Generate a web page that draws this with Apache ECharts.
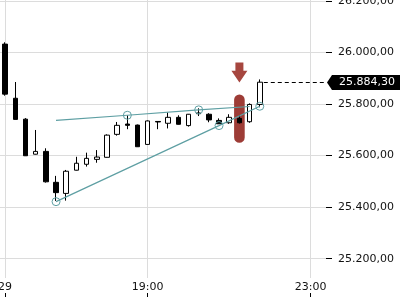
<!DOCTYPE html>
<html><head><meta charset="utf-8">
<script src="https://cdn.jsdelivr.net/npm/echarts@6/dist/echarts.min.js"></script>
<style>html,body{margin:0;padding:0;background:#fff}#c{width:400px;height:300px}</style>
</head><body><div id="c"></div>
<script>
// 15-minute candles
const categories = ['15:30','15:45','16:00','16:15','16:30','16:45','17:00','17:15','17:30','17:45',
  '18:00','18:15','18:30','18:45','19:00','19:15','19:30','19:45','20:00','20:15','20:30','20:45',
  '21:00','21:15','21:30','21:45','22:00','22:15','22:30','22:45','23:00','23:15'];
// [open, close, low, high]
const ohlc = [
  [26032,25838,25832,26039],
  [25822,25740,25740,25885],
  [25741,25599,25598,25745],
  [25605,25616,25604,25699],
  [25616,25498,25495,25628],
  [25496,25456,25424,25521],
  [25453,25539,25425,25544],
  [25543,25570,25542,25595],
  [25566,25589,25557,25611],
  [25585,25594,25572,25621],
  [25593,25679,25592,25682],
  [25682,25717,25677,25730],
  [25722,25717,25702,25756],
  [25718,25634,25633,25720],
  [25643,25734,25642,25736],
  [25732,25730,25702,25733],
  [25725,25748,25705,25767],
  [25748,25721,25720,25756],
  [25716,25760,25712,25761],
  [25765,25762,25753,25783],
  [25760,25738,25729,25764],
  [25736,25723,25722,25744],
  [25727,25748,25723,25760],
  [25744,25727,25724,25757],
  [25731,25798,25727,25802],
  [25798,25884.30,25787,25895]
];
const lastPrice = 25884.30;
const tickIndex = [0, 14, 30];
const tickText = ['29', '19:00', '23:00'];
// trend lines: [candle index, price]
const trendUpper = [[5,25736],[12,25756],[19,25777],[24,25790]];
const trendUpperMarked = [false, true, true, false];
const trendLower = [[5,25421],[21,25716],[25,25791]];
// signal marker: [candle index, low, high]
const signalBar = [[23, 25649, 25837]];
// arrow: [candle index, top price, tip price]
const signalArrow = [[23, 25961, 25883]];

function fmt(v){
  const s = Number(v).toFixed(2);
  const parts = s.split('.');
  return parts[0].replace(/\B(?=(\d{3})+(?!\d))/g, '.') + ',' + parts[1];
}
const isTick = (i) => tickIndex.indexOf(i) >= 0;
const teal = '#5e9fa3';
const FONT = 'DejaVu Sans';

const chart = echarts.init(document.getElementById('c'), null, {renderer:'canvas'});
chart.setOption({
  animation: false,
  grid: {left: 0, right: 74, top: 0, bottom: 22, containLabel: false, outerBoundsMode: 'none'},
  xAxis: [{
    type: 'category', data: categories, boundaryGap: true,
    axisLine: {show: false},
    axisTick: {show: false},
    axisLabel: {interval: (i) => isTick(i), formatter: (v, i) => tickText[tickIndex.indexOf(i)] || '',
      fontSize: 11, fontFamily: FONT, color: '#111', margin: 4, hideOverlap: false},
    splitLine: {show: true, interval: (i) => isTick(i), alignWithLabel: true, lineStyle: {color: '#dcdcdc', width: 1}}
  }, {
    type: 'category', data: categories, boundaryGap: true, position: 'bottom', offset: 15,
    axisLine: {show: false},
    axisTick: {show: true, interval: (i) => isTick(i), alignWithLabel: true, length: 4, lineStyle: {color: '#000'}},
    axisLabel: {show: false}, splitLine: {show: false}
  }],
  yAxis: {
    type: 'value', position: 'right', min: 25125, max: 26203, splitNumber: 5, scale: true,
    axisLine: {show: false},
    axisTick: {show: true, length: 6, lineStyle: {color: '#000'}},
    axisLabel: {showMinLabel: false, showMaxLabel: false, formatter: fmt, fontSize: 11, fontFamily: FONT, color: '#111', margin: 12},
    splitLine: {show: true, showMinLine: false, showMaxLine: false, lineStyle: {color: '#dcdcdc', width: 1}}
  },
  series: [{
    type: 'custom', z: 1, silent: true,
    data: signalBar,
    renderItem: (params, api) => {
      const top = api.coord([api.value(0), api.value(2)]);
      const bot = api.coord([api.value(0), api.value(1)]);
      const w = 10.6;
      return {type: 'rect', shape: {x: top[0] - w/2, y: top[1], width: w, height: bot[1] - top[1], r: w/2},
        style: {fill: '#9d3c36'}};
    }
  }, {
    type: 'custom', z: 1, silent: true,
    data: signalArrow,
    renderItem: (params, api) => {
      const top = api.coord([api.value(0), api.value(1)]);
      const tip = api.coord([api.value(0), api.value(2)]);
      const cx = top[0], h = tip[1] - top[1], neck = top[1] + h * 0.41;
      return {type: 'polygon', shape: {points: [
        [cx - 4, top[1]], [cx + 4, top[1]], [cx + 4, neck], [cx + 8, neck],
        [cx, tip[1]], [cx - 8, neck], [cx - 4, neck]]},
        style: {fill: '#a6463f'}};
    }
  }, {
    type: 'candlestick', z: 2, data: ohlc, barWidth: 5,
    itemStyle: {color: '#ffffff', color0: '#000000', borderColor: '#000000', borderColor0: '#000000', borderWidth: 1}
  }, {
    type: 'line', z: 3, showAllSymbol: true,
    data: trendUpper.map((p, i) => ({value: p, symbol: trendUpperMarked[i] ? 'circle' : 'none'})),
    symbolSize: 8,
    lineStyle: {color: teal, width: 1.2},
    itemStyle: {color: 'rgba(0,0,0,0)', borderColor: teal, borderWidth: 1}
  }, {
    type: 'line', z: 3, showAllSymbol: true,
    data: trendLower, symbol: 'circle', symbolSize: 8,
    lineStyle: {color: teal, width: 1.2},
    itemStyle: {color: 'rgba(0,0,0,0)', borderColor: teal, borderWidth: 1}
  }]
});

// last price line and tag
const lastIdx = ohlc.length - 1;
const p = chart.convertToPixel({gridIndex: 0}, [lastIdx, lastPrice]);
const y = Math.round(p[1]) + 0.5;
const tipX = 327;
chart.setOption({
  graphic: [
    {type: 'line', shape: {x1: p[0] + 4, y1: y, x2: 324, y2: y}, style: {stroke: '#000', lineWidth: 1, lineDash: [4, 3]}},
    {type: 'polygon', shape: {points: [[tipX, y], [tipX + 5, y - 7.5], [400, y - 7.5], [400, y + 7.5], [tipX + 5, y + 7.5]]}, style: {fill: '#000'}},
    {type: 'text', x: 339, y: y, style: {text: fmt(lastPrice), fill: '#fff', font: '11px "DejaVu Sans"', verticalAlign: 'middle', align: 'left'}}
  ]
});
</script></body></html>
